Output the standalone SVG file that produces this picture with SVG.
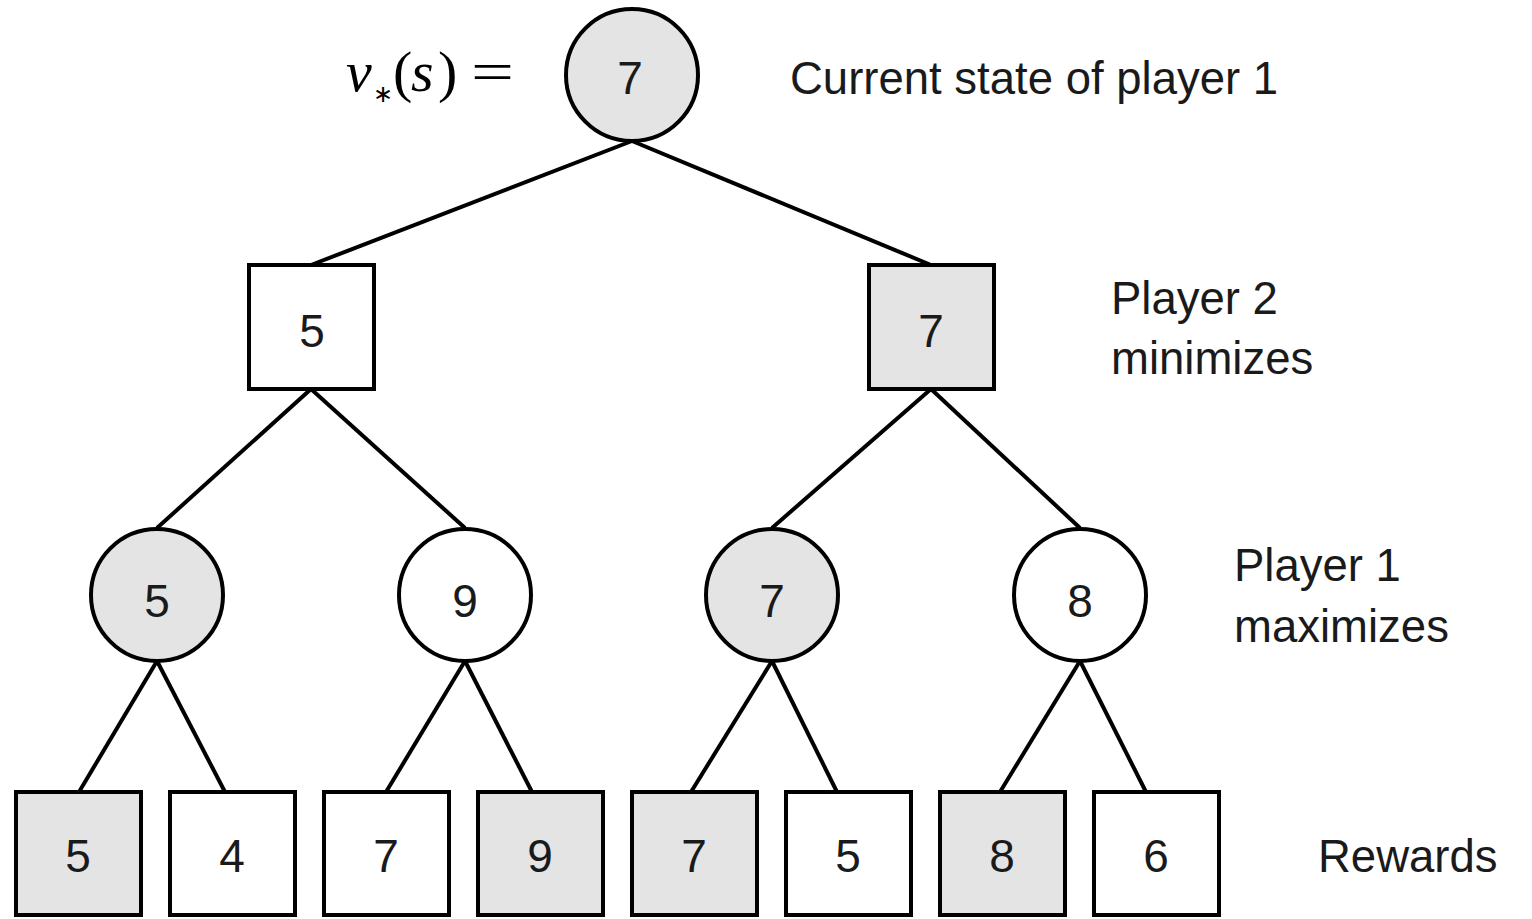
<svg xmlns="http://www.w3.org/2000/svg" width="1532" height="919" viewBox="0 0 1532 919">
  <style>
    .edge { stroke: #000; stroke-width: 4; fill: none; }
    .node { stroke: #000; stroke-width: 4; }
    .hi { fill: #e4e4e4; }
    .lo { fill: #ffffff; }
    .num { font-family: "Liberation Sans", Arial, sans-serif; font-size: 46px; fill: #1a1a1a; text-anchor: middle; }
    .lbl { font-family: "Liberation Sans", Arial, sans-serif; font-size: 45.5px; fill: #1a1a1a; }
    .math { font-family: "Liberation Serif", "Times New Roman", serif; font-size: 58px; fill: #000; }
    .sub { font-family: "DejaVu Sans", sans-serif; font-size: 24px; fill: #000; }
  </style>
  <rect width="1532" height="919" fill="#ffffff"/>

  <!-- connectors -->
  <g id="connectors">
    <line class="edge" x1="632" y1="141" x2="311" y2="265"/>
    <line class="edge" x1="632" y1="141" x2="931" y2="265"/>
    <line class="edge" x1="311" y1="389" x2="157" y2="528"/>
    <line class="edge" x1="311" y1="389" x2="465" y2="528"/>
    <line class="edge" x1="931" y1="389" x2="772" y2="528"/>
    <line class="edge" x1="931" y1="389" x2="1080" y2="528"/>
    <line class="edge" x1="157" y1="661" x2="79" y2="792"/>
    <line class="edge" x1="157" y1="661" x2="225" y2="792"/>
    <line class="edge" x1="465" y1="661" x2="386" y2="792"/>
    <line class="edge" x1="465" y1="661" x2="532" y2="792"/>
    <line class="edge" x1="772" y1="661" x2="691" y2="792"/>
    <line class="edge" x1="772" y1="661" x2="837" y2="792"/>
    <line class="edge" x1="1080" y1="661" x2="1000" y2="792"/>
    <line class="edge" x1="1080" y1="661" x2="1146" y2="792"/>
  </g>

  <!-- root -->
  <g id="root">
    <circle class="node hi" cx="632" cy="75" r="66"/>
    <text class="num" x="630" y="94">7</text>
  </g>
  <g id="value-label">
    <text class="math" x="346" y="91" font-style="italic">v</text>
    <text class="sub" x="373" y="102">∗</text>
    <text class="math" x="393" y="91">(</text>
    <text class="math" x="411" y="91" font-style="italic">s</text>
    <text class="math" x="438" y="91">)</text>
    <text class="math" x="471" y="91" textLength="43" lengthAdjust="spacingAndGlyphs">=</text>
  </g>

  <!-- player 2 level -->
  <g id="p2-left">
    <rect class="node lo" x="249" y="265" width="125" height="124"/>
    <text class="num" x="312" y="347">5</text>
  </g>
  <g id="p2-right">
    <rect class="node hi" x="869" y="265" width="125" height="124"/>
    <text class="num" x="931" y="347">7</text>
  </g>

  <!-- player 1 level -->
  <g id="p1-a">
    <circle class="node hi" cx="157" cy="595" r="66"/>
    <text class="num" x="157" y="617">5</text>
  </g>
  <g id="p1-b">
    <circle class="node lo" cx="465" cy="595" r="66"/>
    <text class="num" x="465" y="617">9</text>
  </g>
  <g id="p1-c">
    <circle class="node hi" cx="772" cy="595" r="66"/>
    <text class="num" x="772" y="617">7</text>
  </g>
  <g id="p1-d">
    <circle class="node lo" cx="1080" cy="595" r="66"/>
    <text class="num" x="1080" y="617">8</text>
  </g>

  <!-- rewards -->
  <g id="r1"><rect class="node hi" x="16" y="792" width="125" height="123"/><text class="num" x="78" y="872">5</text></g>
  <g id="r2"><rect class="node lo" x="170" y="792" width="125" height="123"/><text class="num" x="232" y="872">4</text></g>
  <g id="r3"><rect class="node lo" x="324" y="792" width="125" height="123"/><text class="num" x="386" y="872">7</text></g>
  <g id="r4"><rect class="node hi" x="478" y="792" width="125" height="123"/><text class="num" x="540" y="872">9</text></g>
  <g id="r5"><rect class="node hi" x="632" y="792" width="125" height="123"/><text class="num" x="694" y="872">7</text></g>
  <g id="r6"><rect class="node lo" x="786" y="792" width="125" height="123"/><text class="num" x="848" y="872">5</text></g>
  <g id="r7"><rect class="node hi" x="940" y="792" width="125" height="123"/><text class="num" x="1002" y="872">8</text></g>
  <g id="r8"><rect class="node lo" x="1094" y="792" width="125" height="123"/><text class="num" x="1156" y="872">6</text></g>

  <!-- side labels -->
  <g id="labels">
    <text class="lbl" x="790" y="94">Current state of player 1</text>
    <text class="lbl" x="1111" y="314">Player 2</text>
    <text class="lbl" x="1111" y="374">minimizes</text>
    <text class="lbl" x="1234" y="581">Player 1</text>
    <text class="lbl" x="1234" y="642">maximizes</text>
    <text class="lbl" x="1318" y="872">Rewards</text>
  </g>
</svg>
